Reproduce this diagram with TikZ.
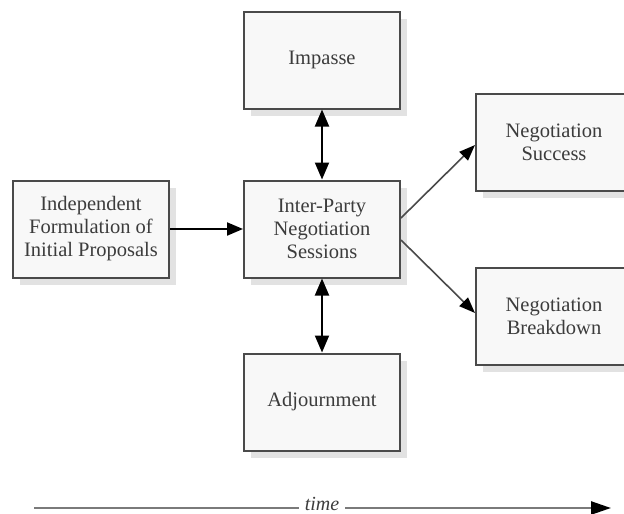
\documentclass[tikz,border=0pt]{standalone}
\usepackage{fontspec}
\setmainfont{Liberation Serif}
\usetikzlibrary{shadows,arrows.meta}
\definecolor{boxline}{HTML}{4A4A4A}
\definecolor{boxfill}{HTML}{F8F8F8}
\definecolor{shadowc}{HTML}{E2E2E2}
\definecolor{txt}{HTML}{3C3C3C}
\definecolor{tline}{HTML}{7A7A7A}
\tikzset{
  box/.style={draw=boxline, line width=2pt, fill=boxfill, minimum width=156pt, minimum height=97pt,
    inner sep=0pt, align=center, text=txt, font=\fontsize{20.5}{23}\selectfont,
    general shadow={fill=shadowc, shadow xshift=7pt, shadow yshift=-7pt}},
  conn/.style={draw=black, line width=2pt, -{Triangle[length=16pt,width=13pt]}},
  bconn/.style={draw=black, line width=2pt, {Triangle[length=17pt,width=14pt]}-{Triangle[length=17pt,width=14pt]}},
  dconn/.style={draw=boxline, line width=1.6pt, -{Triangle[length=16pt,width=12pt,color=black]}},
  timeline/.style={draw=tline, line width=2.5pt},
}
\begin{document}
\begin{tikzpicture}[x=1pt,y=-1pt]
\useasboundingbox (0,0) rectangle (624,514);
\clip (0,0) rectangle (624,514);
\node[box] (ind) at (91,229) {Independent\\Formulation of\\Initial Proposals};
\node[box] (ctr) at (322,229) {Inter-Party\\Negotiation\\Sessions};
\node[box] (imp) at (322,60) {Impasse};
\node[box] (adj) at (322,402) {Adjournment};
\node[box] (suc) at (554,142) {Negotiation\\Success};
\node[box] (brk) at (554,316) {Negotiation\\Breakdown};
\draw[conn] (ind.east) -- (ctr.west);
\draw[bconn] (imp.south) -- (ctr.north);
\draw[bconn] (ctr.south) -- (adj.north);
\draw[dconn] ([yshift=11pt]ctr.east) -- ([yshift=-3pt]suc.west);
\draw[dconn] ([yshift=-11pt]ctr.east) -- ([yshift=3pt]brk.west);
\coordinate (t0) at (34,508);
\coordinate (t1) at (611,508);
\node[text=txt, font=\fontsize{20}{21}\itshape, inner xsep=6pt, inner ysep=0pt, anchor=base] (tl) at (322,510) {time};
\draw[timeline] (t0) -- (t0 -| tl.west);
\draw[timeline, -{Triangle[length=20pt,width=13pt,color=black]}] (t0 -| tl.east) -- (t1);
\end{tikzpicture}
\end{document}
